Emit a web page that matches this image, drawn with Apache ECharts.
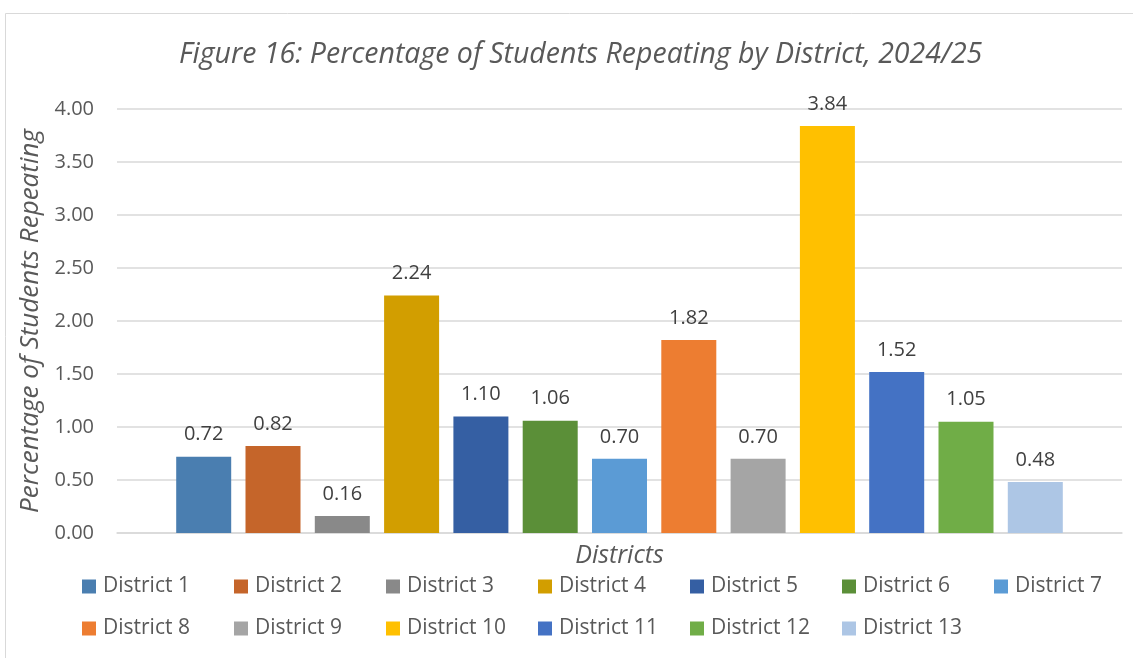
<!DOCTYPE html>
<html><head><meta charset="utf-8">
<script src="https://cdn.jsdelivr.net/npm/echarts@6/dist/echarts.min.js"></script>
<style>html,body{margin:0;padding:0;background:#fff}#c{width:1133px;height:658px}</style>
</head><body><div id="c"></div>
<script>
const districts = ['District 1','District 2','District 3','District 4','District 5','District 6','District 7','District 8','District 9','District 10','District 11','District 12','District 13'];
const values = [0.72,0.82,0.16,2.24,1.10,1.06,0.70,1.82,0.70,3.84,1.52,1.05,0.48];
const colors = ['#4A7EB0','#C5652A','#898989','#D29E00','#355FA3','#5B8F38','#5B9BD5','#ED7D31','#A5A5A5','#FFC000','#4472C4','#70AD47','#ADC6E5'];
const yTicks = {min:0, max:4, interval:0.5};
const FONT = '"Open Sans", "Noto Sans", sans-serif';

const chart = echarts.init(document.getElementById('c'));
const series = districts.map((d,i)=>({
  name:d, type:'bar', data:[values[i]], barWidth:55, barGap:'26%',
  itemStyle:{color:colors[i]},
  label:{show:true, position:'top', distance:12, formatter:p=>p.value.toFixed(2), color:'#404040', fontSize:20, fontFamily:FONT}
}));
// one legend per item, laid out in a 7-column grid like the original
const legends = districts.map((d,i)=>({
  data:[d], left:82 + (i % 7) * 152, top: i < 7 ? 576 : 618, padding:0,
  itemWidth:14, itemHeight:14, icon:'rect',
  textStyle:{color:'#595959', fontSize:21, lineHeight:20, fontFamily:FONT, padding:[0,0,0,2]}
}));
chart.setOption({
  animation:false,
  title:{text:'Figure 16: Percentage of Students Repeating by District, 2024/25', left:174, top:35,
    textStyle:{fontStyle:'italic', fontWeight:'normal', fontSize:28.5, color:'#595959', fontFamily:FONT}},
  graphic:[{type:'rect', shape:{x:5.5,y:13.5,width:1140,height:660}, style:{fill:'none', stroke:'#D9D9D9', lineWidth:1}, silent:true}],
  grid:{left:117, right:11, top:109, bottom:125, containLabel:false},
  legend:legends,
  xAxis:{type:'category', data:[''], name:'Districts', nameLocation:'middle', nameGap:10,
    nameTextStyle:{fontStyle:'italic', fontSize:25, color:'#595959', fontFamily:FONT},
    axisLine:{lineStyle:{color:'#D9D9D9', width:1.5}}, axisTick:{show:false}, axisLabel:{show:false}},
  yAxis:{type:'value', min:yTicks.min, max:yTicks.max, interval:yTicks.interval,
    name:'Percentage of Students Repeating', nameLocation:'middle', nameGap:73,
    nameTextStyle:{fontStyle:'italic', fontSize:26, color:'#595959', fontFamily:FONT},
    axisLabel:{formatter:v=>v.toFixed(2), color:'#595959', fontSize:20, fontFamily:FONT, margin:23},
    splitLine:{lineStyle:{color:'#D9D9D9', width:1.5}}, axisLine:{show:false}, axisTick:{show:false}},
  series
});
</script></body></html>
